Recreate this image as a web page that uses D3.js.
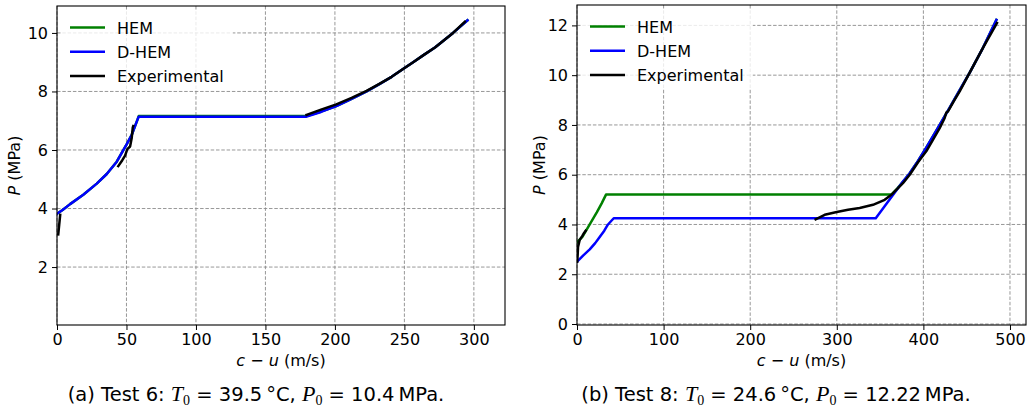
<!DOCTYPE html>
<html>
<head>
<meta charset="utf-8">
<script src="https://cdn.jsdelivr.net/npm/d3@7"></script>
<style>
  body { margin: 0; background: #fff; }
  svg { display: block; }
  text { font-family: "DejaVu Sans", sans-serif; fill: #000; }
</style>
</head>
<body>
<svg id="chart" width="1028" height="410"></svg>
<script>
// ---------- Data: Test 6 (left panel) ----------
const hem6C  = [0, 4, 9.4, 18.9, 28.6, 35.8, 43, 46.6, 50.2, 53.8, 57.8, 58.8, 179.6, 190, 201, 212, 222.8, 232, 240.8, 248.5, 256.3, 264, 272, 278.5, 285, 295.4];
const hem6P  = [3.82, 3.95, 4.15, 4.47, 4.85, 5.18, 5.6, 5.9, 6.2, 6.52, 7.02, 7.16, 7.16, 7.31, 7.5, 7.75, 8.0, 8.25, 8.5, 8.75, 9.0, 9.25, 9.5, 9.75, 10.0, 10.43];
const dhem6C = [0, 4, 9.4, 18.9, 28.6, 35.8, 43, 46.6, 50.2, 53.8, 57.8, 58.8, 179.6, 190, 201, 212, 222.8, 232, 240.8, 248.5, 256.3, 264, 272, 278.5, 285, 295.4];
const dhem6P = [3.82, 3.95, 4.15, 4.47, 4.85, 5.18, 5.6, 5.9, 6.2, 6.52, 7.02, 7.14, 7.14, 7.3, 7.5, 7.75, 8.0, 8.25, 8.5, 8.75, 9.0, 9.25, 9.5, 9.75, 10.0, 10.43];
const exp6C  = [0.9, 1.6, 2.3, null, 44.1, 47, 49, 50.6, 52.6, 53.8, 54.5, 54.9, null, 179.6, 190, 201, 212, 222.8, 232, 240.8, 248.5, 256.3, 264, 272, 278.5, 285, 293.5];
const exp6P  = [3.12, 3.45, 3.78, null, 5.45, 5.65, 5.81, 6.03, 6.12, 6.42, 6.76, 6.82, null, 7.2, 7.38, 7.56, 7.78, 8.02, 8.26, 8.5, 8.75, 9.0, 9.25, 9.5, 9.75, 10.0, 10.38];

// ---------- Data: Test 8 (right panel) ----------
const hem8C  = [0, 6.2, 14.7, 23, 28.5, 33.5, 363, 370, 376.4, 384, 393.8, 403.5, 418.8, 430.4, 441.9, 453.5, 468.8, 484.3];
const hem8P  = [3.28, 3.5, 4.0, 4.5, 4.85, 5.2, 5.2, 5.45, 5.72, 6.05, 6.55, 7.1, 8.0, 8.7, 9.4, 10.1, 11.1, 12.22];
const dhem8C = [0, 7, 14.7, 21, 26.2, 31.5, 35.8, 42.4, 345, 376.4, 384, 393.8, 403.5, 418.8, 430.4, 441.9, 453.5, 468.8, 484.3];
const dhem8P = [2.5, 2.75, 3.0, 3.25, 3.5, 3.75, 4.0, 4.25, 4.25, 5.73, 6.05, 6.55, 7.1, 8.0, 8.7, 9.4, 10.1, 11.1, 12.22];
const exp8C  = [0.3, 0.8, 1.2, 3.1, 6.2, 8, 10, null, 275.6, 286, 300, 313, 326.4, 341.8, 355.3, 363, 376.4, 384.2, 393.8, 403.5, 411, 418.8, 424.6, 426.5, 428.4, 435, 441.9, 453.5, 468.8, 485];
const exp8P  = [2.5, 2.8, 3.1, 3.38, 3.54, 3.65, 3.75, null, 4.21, 4.39, 4.5, 4.59, 4.66, 4.79, 4.99, 5.19, 5.66, 6.0, 6.5, 6.95, 7.4, 7.87, 8.28, 8.5, 8.54, 8.95, 9.35, 10.1, 11.1, 12.1];

// ---------- Ticks and labels ----------
const xTicks6 = [0, 50, 100, 150, 200, 250, 300];
const yTicks6 = [2, 4, 6, 8, 10];
const xTicks8 = [0, 100, 200, 300, 400, 500];
const yTicks8 = [0, 2, 4, 6, 8, 10, 12];
const seriesNames = ["HEM", "D-HEM", "Experimental"];
const seriesColors = ["#008000", "#0000ff", "#000000"];

const svg = d3.select("#chart");

function zip(cs, ps) {
  return cs.map((c, i) => (c === null || ps[i] === null) ? null : [c, ps[i]]);
}

function panel(opt) {
  const g = svg.append("g");
  const x = d3.scaleLinear().domain(opt.xDomain).range([opt.left, opt.right]);
  const y = d3.scaleLinear().domain(opt.yDomain).range([opt.bottom, opt.top]);

  // grid
  const grid = g.append("g").attr("stroke", "#8c8c8c").attr("stroke-width", 0.9).attr("stroke-dasharray", "3.5,1.8");
  opt.xTicks.forEach(t => grid.append("line").attr("x1", x(t)).attr("x2", x(t)).attr("y1", opt.top).attr("y2", opt.bottom));
  opt.yTicks.forEach(t => grid.append("line").attr("x1", opt.left).attr("x2", opt.right).attr("y1", y(t)).attr("y2", y(t)));

  // legend background
  g.append("rect").attr("x", opt.left + 4).attr("y", opt.top + 4)
    .attr("width", opt.legendW).attr("height", 80)
    .attr("fill", "#fff").attr("fill-opacity", 0.8);

  // lines
  const line = d3.line().defined(d => d !== null).x(d => x(d[0])).y(d => y(d[1]));
  const clipId = "clip" + opt.id;
  svg.append("clipPath").attr("id", clipId).append("rect")
    .attr("x", opt.left).attr("y", opt.top).attr("width", opt.right - opt.left).attr("height", opt.bottom - opt.top);
  const lg = g.append("g").attr("clip-path", `url(#${clipId})`);
  opt.series.forEach((s, i) => {
    lg.append("path").datum(s).attr("d", line)
      .attr("fill", "none").attr("stroke", seriesColors[i]).attr("stroke-width", 2.5)
      .attr("stroke-linejoin", "round").attr("stroke-linecap", "square");
  });

  // axes
  const xa = g.append("g").attr("transform", `translate(0,${opt.bottom})`)
    .call(d3.axisBottom(x).tickValues(opt.xTicks).tickSize(5).tickPadding(4).tickFormat(d3.format("d")));
  const ya = g.append("g").attr("transform", `translate(${opt.left},0)`)
    .call(d3.axisLeft(y).tickValues(opt.yTicks).tickSize(5).tickPadding(4).tickFormat(d3.format("d")));
  [xa, ya].forEach(a => {
    a.select(".domain").remove();
    a.selectAll("text").attr("font-size", 16).attr("font-family", "DejaVu Sans");
    a.selectAll("line").attr("stroke", "#000").attr("stroke-width", 1);
  });
  // frame
  g.append("rect").attr("x", opt.left).attr("y", opt.top)
    .attr("width", opt.right - opt.left).attr("height", opt.bottom - opt.top)
    .attr("fill", "none").attr("stroke", "#000").attr("stroke-width", 1.1);

  // legend
  const lx = opt.left + 13;
  seriesNames.forEach((n, i) => {
    const ly = opt.top + 21.5 + i * 24.2;
    g.append("line").attr("x1", lx).attr("x2", lx + 35).attr("y1", ly).attr("y2", ly)
      .attr("stroke", seriesColors[i]).attr("stroke-width", 2.5);
    g.append("text").attr("x", lx + 47).attr("y", ly + 6).attr("font-size", 16).text(n);
  });

  // x label
  const xl = g.append("text").attr("x", (opt.left + opt.right) / 2).attr("y", 366)
    .attr("text-anchor", "middle").attr("font-size", 16);
  xl.append("tspan").attr("font-style", "italic").text("c");
  xl.append("tspan").text(" \u2212 ");
  xl.append("tspan").attr("font-style", "italic").text("u");
  xl.append("tspan").text(" (m/s)");

  // y label
  const cy = (opt.top + opt.bottom) / 2;
  const yl = g.append("text").attr("transform", `translate(${opt.ylabelX},${cy}) rotate(-90)`)
    .attr("text-anchor", "middle").attr("font-size", 16);
  yl.append("tspan").attr("font-style", "italic").text("P");
  yl.append("tspan").text(" (MPa)");

  // caption
  const cap = g.append("text").attr("x", opt.capX).attr("y", 401).attr("text-anchor", "middle").attr("font-size", 19.5);
  cap.append("tspan").text(opt.cap[0]);
  cap.append("tspan").attr("font-family", "Liberation Serif").attr("font-style", "italic").attr("font-size", 22).text("T");
  cap.append("tspan").attr("font-family", "Liberation Serif").attr("font-size", 14).attr("dy", 4).text("0");
  cap.append("tspan").attr("dy", -4).text(opt.cap[1]);
  cap.append("tspan").attr("font-family", "Liberation Serif").attr("font-style", "italic").attr("font-size", 22).text("P");
  cap.append("tspan").attr("font-family", "Liberation Serif").attr("font-size", 14).attr("dy", 4).text("0");
  cap.append("tspan").attr("dy", -4).text(opt.cap[2]);
}

panel({
  id: "a", left: 57, right: 505, top: 6, bottom: 325,
  xDomain: [0, 322.4], yDomain: [0.02, 10.92],
  xTicks: xTicks6, yTicks: yTicks6, ylabelX: 20, legendW: 172,
  series: [zip(hem6C, hem6P), zip(dhem6C, dhem6P), zip(exp6C, exp6P)],
  capX: 256, cap: ["(a) Test 6: ", " = 39.5\u2009\u00B0C, ", " = 10.4\u2009MPa."]
});

panel({
  id: "b", left: 577, right: 1026, top: 5, bottom: 325,
  xDomain: [0, 518.5], yDomain: [-0.04, 12.82],
  xTicks: xTicks8, yTicks: yTicks8, ylabelX: 545, legendW: 172,
  series: [zip(hem8C, hem8P), zip(dhem8C, dhem8P), zip(exp8C, exp8P)],
  capX: 776, cap: ["(b) Test 8: ", " = 24.6\u2009\u00B0C, ", " = 12.22\u2009MPa."]
});
</script>
</body>
</html>
